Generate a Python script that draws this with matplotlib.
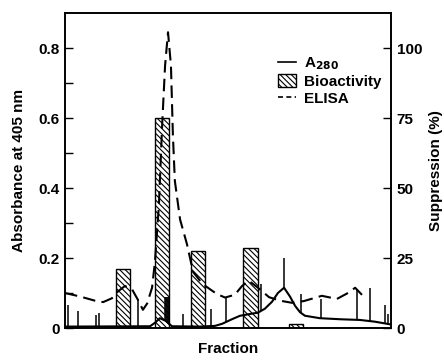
import numpy as np
import matplotlib
matplotlib.use("Agg")
import matplotlib.pyplot as plt
from matplotlib.lines import Line2D
from matplotlib.patches import Patch

plt.rcParams['font.family'] = ['Liberation Sans', 'DejaVu Sans']
plt.rcParams['font.weight'] = 'bold'
plt.rcParams['hatch.linewidth'] = 0.8
plt.rcParams['mathtext.default'] = 'bf'

# ELISA (absorbance at 405 nm)
elisa_x = [0, 4.6, 9.2, 11.7, 14.4, 16.3, 18.4, 20.6, 22.4, 23.9, 25.2, 26.7, 27.6, 28.8,
           29.8, 30.7, 31.6, 32.5, 33.1, 33.7, 35.3, 37.4, 39.3, 42.3, 46.6, 49.1, 52.1,
           54.3, 56.4, 59.2, 62.6, 66.0, 69.6, 73.3, 78.8, 83.4, 86.8, 89.0, 92.0]
elisa_y = [0.10, 0.09, 0.078, 0.074, 0.085, 0.105, 0.12, 0.11, 0.08, 0.052, 0.07, 0.115,
           0.19, 0.35, 0.58, 0.75, 0.845, 0.75, 0.55, 0.42, 0.31, 0.24, 0.16, 0.125, 0.097,
           0.087, 0.095, 0.12, 0.135, 0.115, 0.088, 0.078, 0.072, 0.077, 0.092, 0.083, 0.10,
           0.115, 0.086]

# A280 trace
a280_x = [0, 26.1, 27.6, 29.1, 31.0, 32.8, 41.4, 46.0, 48.2, 51.2, 53.7, 59.2, 61.3, 63.5,
          65.3, 67.2, 69.0, 70.6, 72.1, 73.6, 78.2, 84.4, 90.5, 95.1, 100]
a280_y = [0.004, 0.005, 0.015, 0.028, 0.02, 0.005, 0.004, 0.006, 0.012, 0.025, 0.035, 0.044,
          0.055, 0.075, 0.10, 0.115, 0.09, 0.063, 0.045, 0.035, 0.028, 0.025, 0.023, 0.018, 0.01]

# A280 spikes
spike_x = [0.9, 4.0, 9.5, 10.4, 22.4, 30.7, 31.0, 31.3, 31.6, 31.9, 36.2, 44.8, 49.4, 60.1,
           67.2, 72.4, 78.5, 89.6, 93.6, 98.2, 99.1]
spike_y = [0.066, 0.049, 0.037, 0.043, 0.083, 0.09, 0.09, 0.09, 0.09, 0.09, 0.04, 0.054,
           0.086, 0.126, 0.2, 0.097, 0.083, 0.11, 0.115, 0.066, 0.04]

# Bioactivity (suppression %)
bar_x = [17.8, 29.8, 40.8, 56.9, 70.9]
bar_h = [21, 75, 27.5, 28.5, 1.5]
bar_w = 4.4

HATCH = '\\' * 6

fig = plt.figure(figsize=(4.44, 3.62), dpi=100)
ax = fig.add_axes([65/444, 1 - 328/362, (391 - 65)/444, (328 - 13)/362])
ax2 = ax.twinx()

ax.set_xlim(0, 100)
ax.set_ylim(0, 0.9)
ax2.set_ylim(0, 112.5)

ax2.bar(bar_x, bar_h, width=bar_w, facecolor='white', edgecolor='black',
        hatch=HATCH, linewidth=1.0, zorder=1)

base = np.interp(spike_x, a280_x, a280_y)
ax2.set_zorder(ax.get_zorder() - 1)
ax.patch.set_visible(False)
ax2.patch.set_visible(True)

ax.vlines(spike_x, base, spike_y, colors='black', linewidth=1.1, zorder=3)
ax.plot(a280_x, a280_y, color='black', linewidth=1.5, zorder=3)
ax.plot(elisa_x, elisa_y, color='black', linewidth=1.5, linestyle=(0, (6, 3)), zorder=3)

ax.set_yticks([0, 0.2, 0.4, 0.6, 0.8])
ax.set_yticklabels(['0', '0.2', '0.4', '0.6', '0.8'])
ax.set_yticks([0.1, 0.3, 0.5, 0.7], minor=True)
ax.set_xticks([])
ax2.set_yticks([0, 25, 50, 75, 100])
for a in (ax, ax2):
    a.tick_params(axis='y', which='both', direction='in', length=6, width=1.0,
                  labelsize=11, pad=4)
    for s in a.spines.values():
        s.set_linewidth(1.2)

ax.set_ylabel('Absorbance at 405 nm', fontsize=11, fontweight='bold', labelpad=9)
ax2.set_ylabel('Suppression (%)', fontsize=11, fontweight='bold', labelpad=5)
ax.set_xlabel('Fraction', fontsize=11, fontweight='bold', labelpad=10)

handles = [Line2D([], [], color='black', linewidth=1.2),
           Patch(facecolor='white', edgecolor='black', hatch=HATCH),
           Line2D([], [], color='black', linewidth=1.2, linestyle=(0, (3, 2)))]
labels = ['A$_{280}$', 'Bioactivity', 'ELISA']
ax.legend(handles, labels, loc='upper left', bbox_to_anchor=(0.635, 0.885), frameon=False,
          handlelength=1.2, handleheight=0.9, handletextpad=0.5, labelspacing=0.15,
          borderaxespad=0, prop={'weight': 'bold', 'size': 11})

fig.savefig('out.png', dpi=100)
